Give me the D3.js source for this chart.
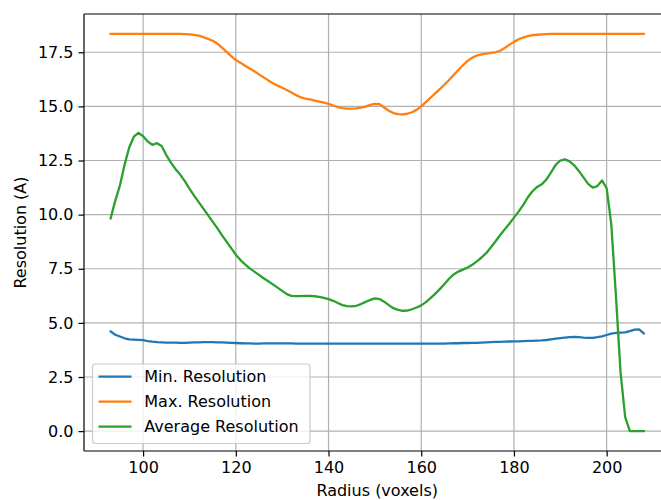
<!DOCTYPE html>
<html>
<head>
<meta charset="utf-8">
<script src="https://cdn.jsdelivr.net/npm/d3@7"></script>
<style>
  html, body { margin: 0; padding: 0; background: #fff; }
  svg { display: block; }
</style>
</head>
<body>
<svg id="chart" width="661" height="500"></svg>
<script>
// ---------------- data ----------------
const radius = d3.range(93, 209); // 93 .. 208 voxels

const minResolution = [
  4.60, 4.45, 4.37, 4.29, 4.24, 4.23, 4.22, 4.20, 4.16, 4.13,   // 93-102
  4.11, 4.10, 4.09, 4.09, 4.09, 4.08, 4.08, 4.09, 4.10, 4.10,   // 103-112
  4.11, 4.11, 4.11, 4.10, 4.10, 4.09, 4.08, 4.07, 4.06, 4.05,   // 113-122
  4.05, 4.04, 4.04, 4.05, 4.05, 4.05, 4.05, 4.05, 4.05, 4.05,   // 123-132
  4.04, 4.04, 4.04, 4.04, 4.04, 4.04, 4.04, 4.04, 4.04, 4.04,   // 133-142
  4.04, 4.04, 4.04, 4.04, 4.04, 4.04, 4.04, 4.04, 4.04, 4.04,   // 143-152
  4.04, 4.04, 4.04, 4.04, 4.04, 4.04, 4.04, 4.04, 4.04, 4.04,   // 153-162
  4.04, 4.04, 4.04, 4.05, 4.06, 4.06, 4.07, 4.07, 4.08, 4.08,   // 163-172
  4.09, 4.10, 4.11, 4.12, 4.12, 4.13, 4.14, 4.15, 4.15, 4.16,   // 173-182
  4.17, 4.17, 4.18, 4.19, 4.21, 4.24, 4.27, 4.30, 4.32, 4.34,   // 183-192
  4.35, 4.34, 4.32, 4.31, 4.31, 4.34, 4.38, 4.44, 4.50, 4.54,   // 193-202
  4.55, 4.56, 4.62, 4.69, 4.70, 4.52                            // 203-208
];

const maxResolution = [
  18.35, 18.35, 18.35, 18.35, 18.35, 18.35, 18.35, 18.35, 18.35, 18.35, // 93-102
  18.35, 18.35, 18.35, 18.35, 18.35, 18.35, 18.34, 18.33, 18.30, 18.27, // 103-112
  18.20, 18.12, 18.03, 17.90, 17.72, 17.52, 17.32, 17.14, 17.02, 16.88, // 113-122
  16.75, 16.62, 16.48, 16.34, 16.20, 16.07, 15.96, 15.86, 15.76, 15.64, // 123-132
  15.52, 15.42, 15.36, 15.32, 15.27, 15.22, 15.17, 15.12, 15.04, 14.97, // 133-142
  14.92, 14.90, 14.90, 14.91, 14.94, 14.99, 15.07, 15.12, 15.10, 14.95, // 143-152
  14.80, 14.69, 14.64, 14.63, 14.66, 14.73, 14.84, 15.00, 15.20, 15.40, // 153-162
  15.60, 15.80, 16.00, 16.22, 16.45, 16.68, 16.90, 17.10, 17.25, 17.35, // 163-172
  17.40, 17.44, 17.47, 17.50, 17.57, 17.70, 17.84, 17.98, 18.10, 18.18, // 173-182
  18.25, 18.29, 18.31, 18.33, 18.34, 18.35, 18.35, 18.35, 18.35, 18.35, // 183-192
  18.35, 18.35, 18.35, 18.35, 18.35, 18.35, 18.35, 18.35, 18.35, 18.35, // 193-202
  18.35, 18.35, 18.35, 18.35, 18.35, 18.35                              // 203-208
];

const avgResolution = [
  9.83, 10.65, 11.35, 12.30, 13.10, 13.60, 13.78, 13.62, 13.38, 13.22, // 93-102
  13.30, 13.17, 12.75, 12.40, 12.10, 11.85, 11.55, 11.20, 10.88, 10.58, // 103-112
  10.28, 9.98, 9.68, 9.38, 9.05, 8.75, 8.45, 8.15, 7.90, 7.70,          // 113-122
  7.52, 7.37, 7.22, 7.06, 6.92, 6.78, 6.63, 6.48, 6.33, 6.25,           // 123-132
  6.24, 6.24, 6.25, 6.25, 6.23, 6.20, 6.16, 6.10, 6.02, 5.92,           // 133-142
  5.82, 5.77, 5.76, 5.79, 5.87, 5.97, 6.06, 6.13, 6.10, 5.98,           // 143-152
  5.82, 5.68, 5.60, 5.56, 5.57, 5.63, 5.71, 5.81, 5.96, 6.14,           // 153-162
  6.34, 6.56, 6.80, 7.04, 7.24, 7.37, 7.46, 7.56, 7.68, 7.84,           // 163-172
  8.02, 8.22, 8.48, 8.76, 9.05, 9.32, 9.58, 9.86, 10.14, 10.45,         // 173-182
  10.80, 11.08, 11.28, 11.40, 11.62, 11.95, 12.30, 12.50, 12.55, 12.46, // 183-192
  12.28, 12.02, 11.72, 11.42, 11.25, 11.32, 11.58, 11.22, 9.55, 6.25,   // 193-202
  2.70, 0.65, 0.00, 0.00, 0.00, 0.00                                    // 203-208
];

const seriesNames = ["Min. Resolution", "Max. Resolution", "Average Resolution"];
const seriesColors = ["#1f77b4", "#ff7f0e", "#2ca02c"];
const xTicks = [100, 120, 140, 160, 180, 200];
const yTicks = [0, 2.5, 5, 7.5, 10, 12.5, 15, 17.5];
const xLabel = "Radius (voxels)";
const yLabel = "Resolution (A)";

// ---------------- layout ----------------
const svg = d3.select("#chart");
const plot = { left: 84, top: 14, right: 670.4, bottom: 451 };
const FONT = "'DejaVu Sans', sans-serif";
const FS = 16;

const x = d3.scaleLinear().domain([87.25, 213.75]).range([plot.left, plot.right]);
const y = d3.scaleLinear().domain([-0.9175, 19.2675]).range([plot.bottom, plot.top]);

// grid
const grid = svg.append("g");
grid.selectAll("line.gx").data(xTicks).join("line")
  .attr("x1", d => x(d)).attr("x2", d => x(d))
  .attr("y1", plot.top).attr("y2", plot.bottom)
  .attr("stroke", "#b0b0b0").attr("stroke-width", 1.2);
grid.selectAll("line.gy").data(yTicks).join("line")
  .attr("x1", plot.left).attr("x2", plot.right)
  .attr("y1", d => y(d)).attr("y2", d => y(d))
  .attr("stroke", "#b0b0b0").attr("stroke-width", 1.2);

// lines
const allSeries = [minResolution, maxResolution, avgResolution];
const line = d3.line().x((d, i) => x(radius[i])).y(d => y(d));
svg.append("g").selectAll("path").data(allSeries).join("path")
  .attr("d", d => line(d))
  .attr("fill", "none")
  .attr("stroke", (d, i) => seriesColors[i])
  .attr("stroke-width", 2.3)
  .attr("stroke-linejoin", "round")
  .attr("stroke-linecap", "square");

// axes
const xAxis = d3.axisBottom(x).tickValues(xTicks).tickSize(5.5).tickPadding(5).tickFormat(d3.format("d"));
const yAxis = d3.axisLeft(y).tickValues(yTicks).tickSize(5.5).tickPadding(5).tickFormat(d3.format(".1f"));

const gx = svg.append("g").attr("transform", `translate(0,${plot.bottom})`).call(xAxis);
const gy = svg.append("g").attr("transform", `translate(${plot.left},0)`).call(yAxis);
[gx, gy].forEach(g => {
  g.select(".domain").remove();
  g.selectAll(".tick line").attr("stroke", "#000").attr("stroke-width", 1.2);
  g.selectAll(".tick text").attr("fill", "#000").style("font-family", FONT).style("font-size", FS + "px");
});

// spines (left, bottom, top; right lies beyond the canvas)
const sp = svg.append("g").attr("stroke", "#000").attr("stroke-width", 1.2).attr("fill", "none");
sp.append("line").attr("x1", plot.left).attr("x2", plot.left).attr("y1", plot.top).attr("y2", plot.bottom);
sp.append("line").attr("x1", plot.left).attr("x2", plot.right).attr("y1", plot.bottom).attr("y2", plot.bottom);
sp.append("line").attr("x1", plot.left).attr("x2", plot.right).attr("y1", plot.top).attr("y2", plot.top);

// axis labels
svg.append("text")
  .attr("x", (plot.left + plot.right) / 2).attr("y", 495.5)
  .attr("text-anchor", "middle")
  .style("font-family", FONT).style("font-size", FS + "px").attr("fill", "#000")
  .text(xLabel);
svg.append("text")
  .attr("transform", `translate(26,${(plot.top + plot.bottom) / 2}) rotate(-90)`)
  .attr("text-anchor", "middle")
  .style("font-family", FONT).style("font-size", FS + "px").attr("fill", "#000")
  .text(yLabel);

// legend
const leg = svg.append("g");
leg.append("rect")
  .attr("x", 92.5).attr("y", 364).attr("width", 217.5).attr("height", 79.5)
  .attr("rx", 3).attr("fill", "#fff").attr("fill-opacity", 0.8)
  .attr("stroke", "#cccccc").attr("stroke-width", 1.2);
const rowY = [376.7, 401.7, 426.7];
seriesNames.forEach((name, i) => {
  leg.append("line")
    .attr("x1", 98.5).attr("x2", 131.5).attr("y1", rowY[i]).attr("y2", rowY[i])
    .attr("stroke", seriesColors[i]).attr("stroke-width", 2.3);
  leg.append("text")
    .attr("x", 144.3).attr("y", rowY[i]).attr("dy", "0.36em")
    .style("font-family", FONT).style("font-size", FS + "px").attr("fill", "#000")
    .text(name);
});
</script>
</body>
</html>
